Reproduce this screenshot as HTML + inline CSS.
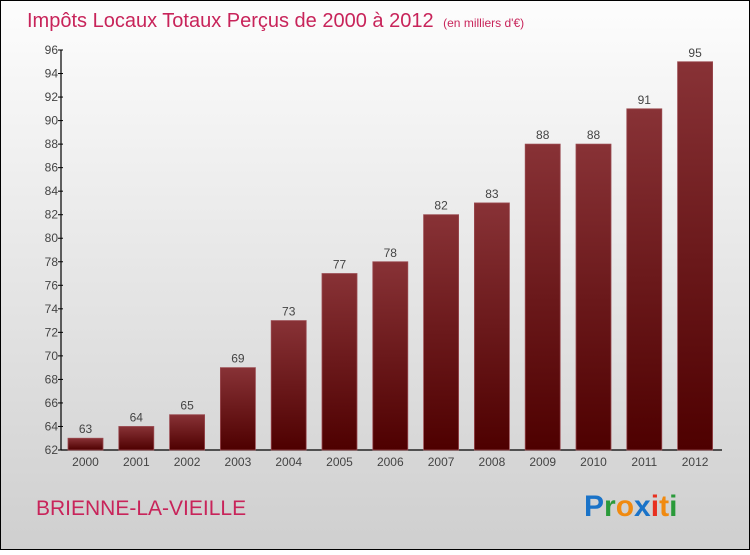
<!DOCTYPE html>
<html><head><meta charset="utf-8"><style>
html,body{margin:0;padding:0}
body{width:750px;height:550px;overflow:hidden;font-family:"Liberation Sans",sans-serif}
</style></head><body>
<svg id="chart" width="750" height="550" xmlns="http://www.w3.org/2000/svg">
<defs>
<linearGradient id="bg" x1="0" y1="0" x2="0" y2="1"><stop offset="0" stop-color="#fdfdfd"/><stop offset="1" stop-color="#cfcfcf"/></linearGradient>
<linearGradient id="bar" x1="0" y1="0" x2="0" y2="1"><stop offset="0" stop-color="#883236"/><stop offset="1" stop-color="#4e0000"/></linearGradient>
</defs>
<rect x="0.5" y="0.5" width="749" height="549" fill="url(#bg)" stroke="#000"/>
<text x="27" y="27" font-size="20" fill="#c8245a">Impôts Locaux Totaux Perçus de 2000 à 2012 <tspan font-size="12" dx="4">(en milliers d'€)</tspan></text>
<g id="axes"></g>
<g id="bars"></g>
<text x="36" y="515" font-size="21" fill="#c8245a">BRIENNE-LA-VIEILLE</text>
<g font-size="30" font-weight="bold" font-family="Liberation Sans, sans-serif">
<text x="584" y="516"><tspan fill="#1a73c8">P</tspan><tspan fill="#2a9a3a">r</tspan><tspan fill="#f08a10">o</tspan><tspan fill="#1a73c8">x</tspan><tspan fill="#e83020">i</tspan><tspan fill="#f08a10">t</tspan><tspan fill="#2a9a3a">i</tspan></text>
</g>
</svg>
<script>
const years=["2000","2001","2002","2003","2004","2005","2006","2007","2008","2009","2010","2011","2012"];
const values=[63,64,65,69,73,77,78,82,83,88,88,91,95];
const yTicks=[62,64,66,68,70,72,74,76,78,80,82,84,86,88,90,92,94,96];
const NS="http://www.w3.org/2000/svg";
const yMin=62,yMax=96,plotTop=50,plotBot=450,axisX=61;
function y(v){return plotBot-(v-yMin)*(plotBot-plotTop)/(yMax-yMin);}
function x(i){return 85.5+i*50.8;}
function mk(t,a,p){const e=document.createElementNS(NS,t);for(const k in a)e.setAttribute(k,a[k]);p.appendChild(e);return e;}
const ax=document.getElementById('axes'),bg=document.getElementById('bars');
const yl=mk('line',{x1:axisX,y1:plotTop,x2:axisX,y2:plotBot,stroke:'#000','stroke-width':1.2},ax);


const xl=mk('line',{x1:axisX,y1:plotBot,x2:722,y2:plotBot,stroke:'#000','stroke-width':1.2},ax);


yTicks.forEach(v=>{
 const tk=mk('line',{x1:axisX-3,y1:y(v),x2:axisX+2,y2:y(v),stroke:'#000'},ax);
 
 
 const t=mk('text',{x:axisX-3,y:y(v)+4,'text-anchor':'end','font-size':12,fill:'#444'},ax);
 t.textContent=v;
 
 
});
years.forEach((yr,i)=>{
 const cx=x(i),w=35;
 const r=mk('rect',{x:cx-w/2,y:y(values[i]),width:w,height:plotBot-y(values[i]),fill:'url(#bar)',stroke:'#9a4a50','stroke-width':0.8},bg);
 
 
 const l=mk('text',{x:cx,y:y(values[i])-5,'text-anchor':'middle','font-size':12,fill:'#444'},bg);
 l.textContent=values[i];
 
 
 const xt=mk('text',{x:cx,y:466,'text-anchor':'middle','font-size':12,fill:'#444'},bg);
 xt.textContent=yr;
 
 
});
</script>
</body></html>
